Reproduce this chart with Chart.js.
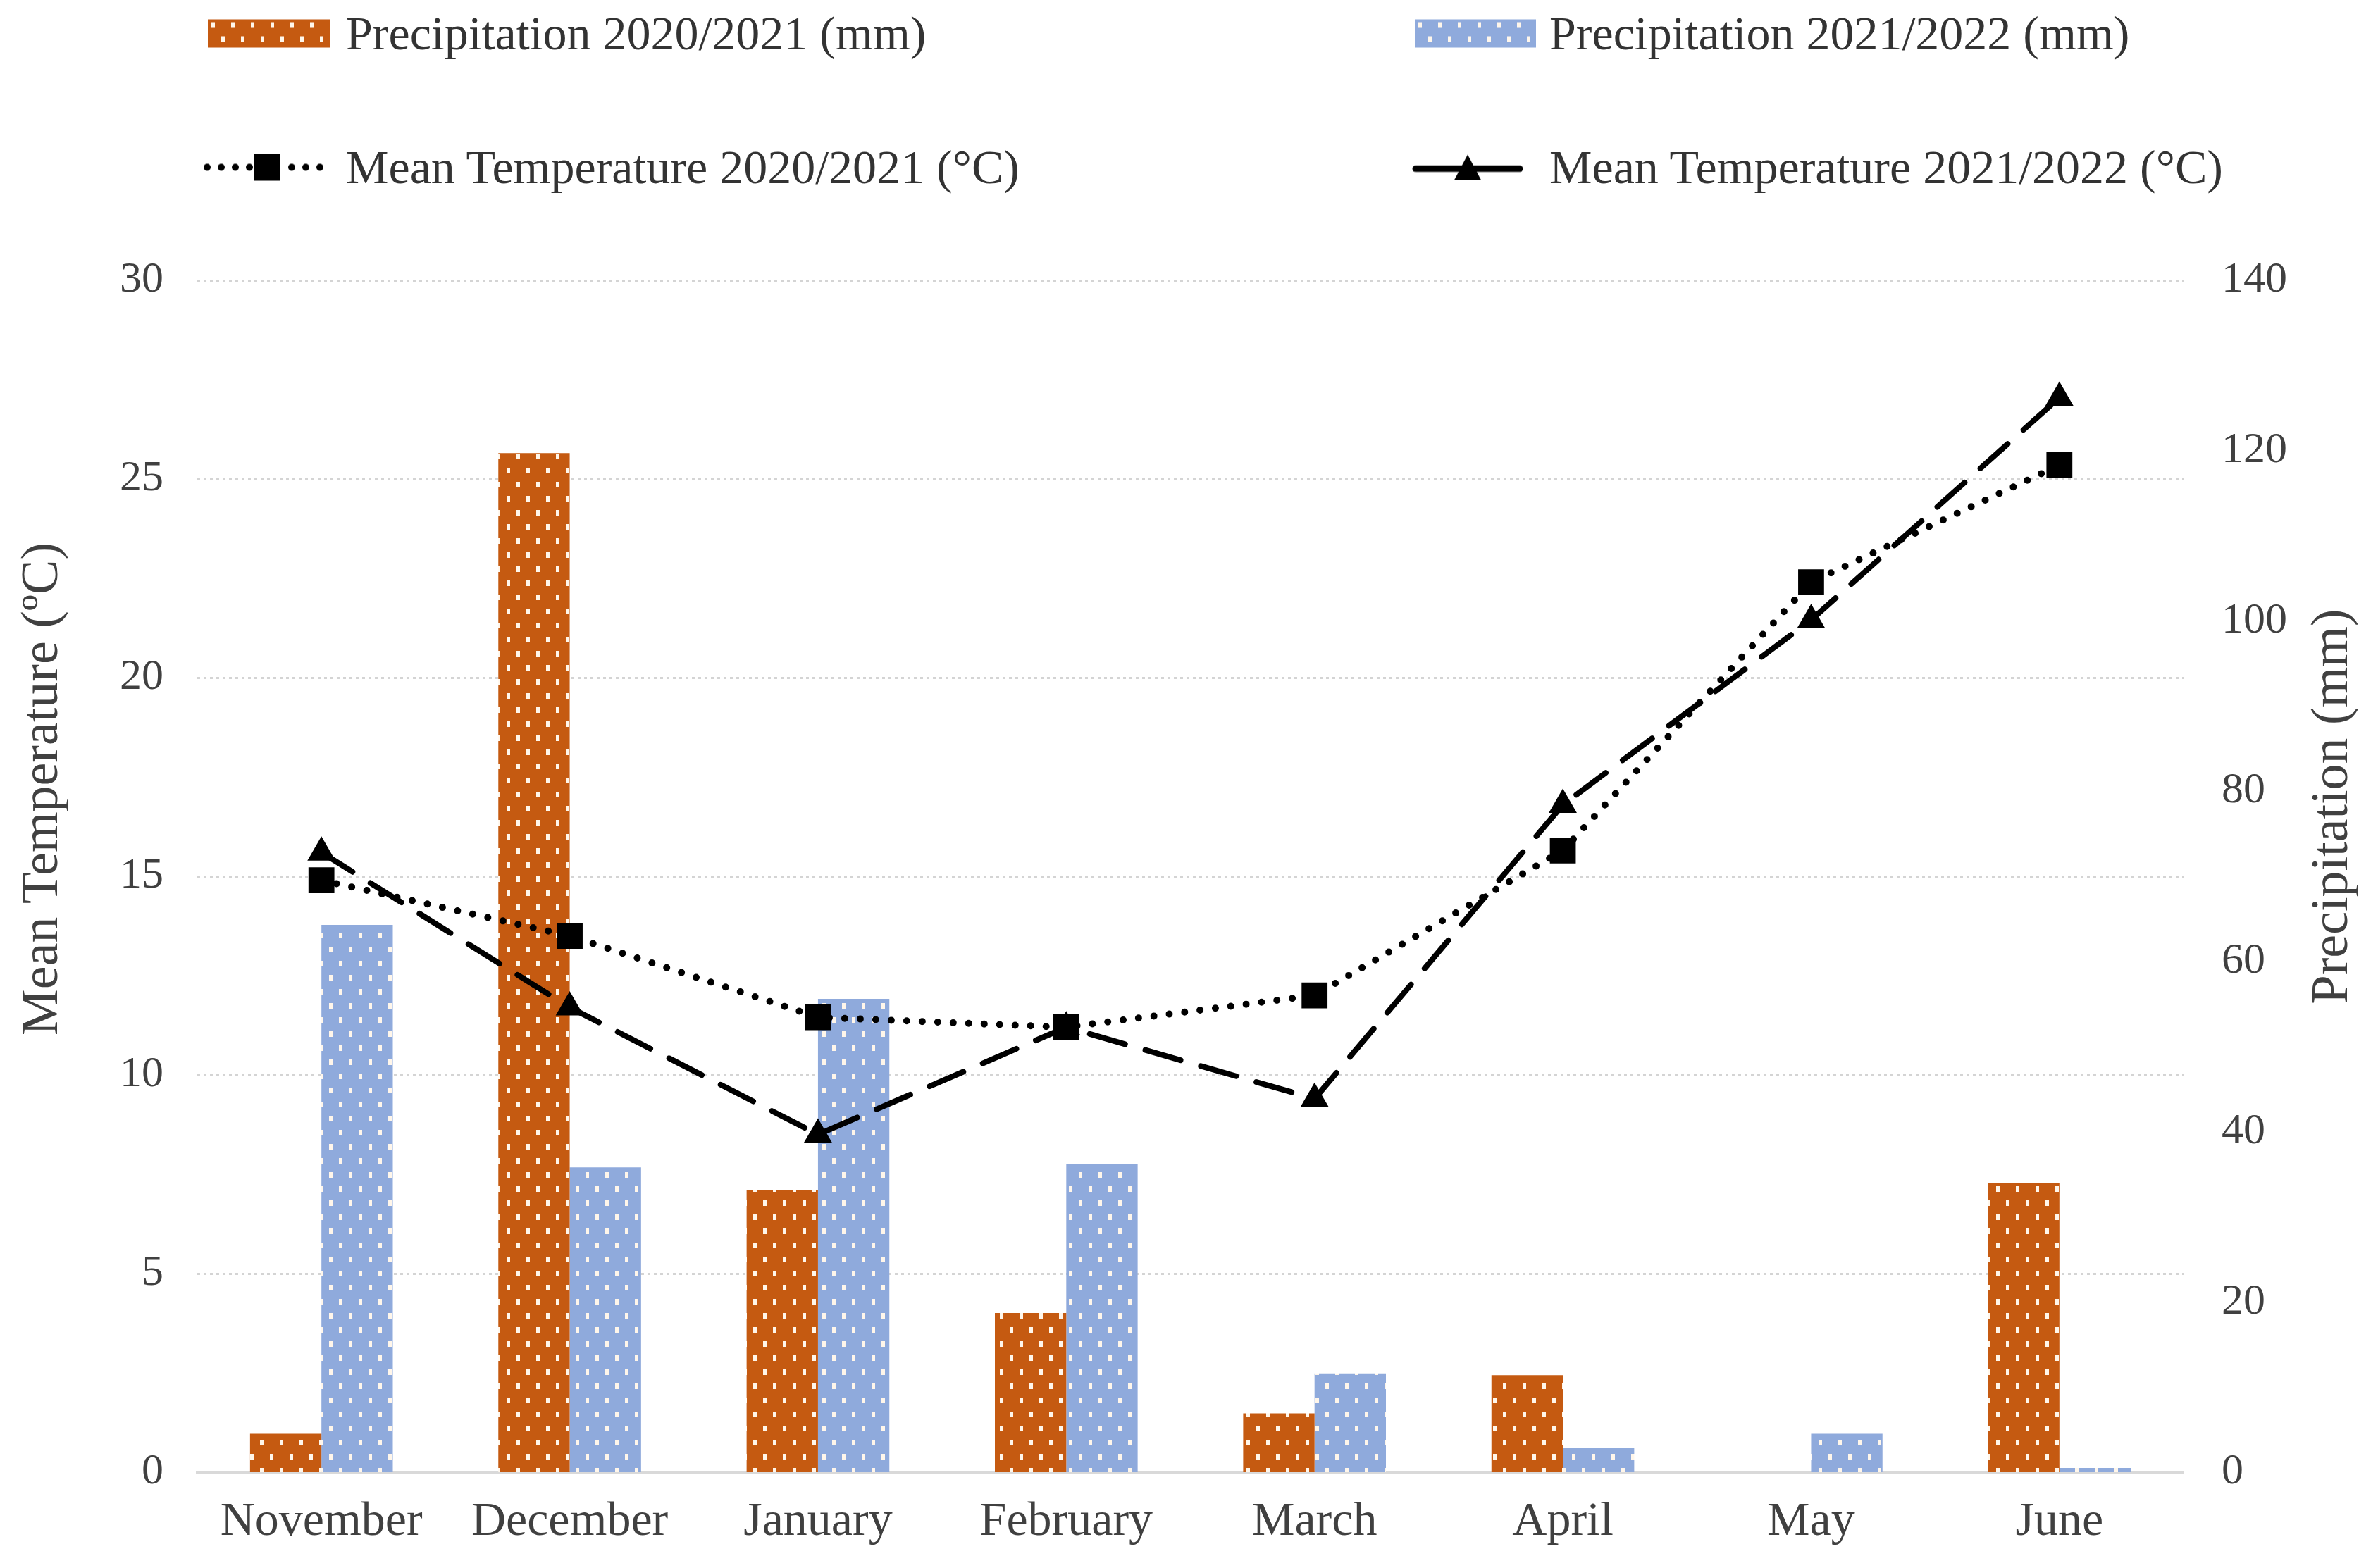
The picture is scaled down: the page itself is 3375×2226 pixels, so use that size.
<!DOCTYPE html>
<html>
<head>
<meta charset="utf-8">
<script src="https://cdn.jsdelivr.net/npm/chart.js@4.4.1/dist/chart.umd.min.js"></script>
<style>
body{margin:0;background:#fff;}
#wrap{position:relative;width:3375px;height:2226px;}
#chart{position:absolute;left:0;top:0;}
.leg{position:absolute;display:flex;align-items:center;transform:translateY(-50%);font-family:"Liberation Serif",serif;font-size:68px;color:#333;white-space:nowrap;}
</style>
</head>
<body>
<div id="wrap">
<canvas id="chart" width="3375" height="2226"></canvas>
<div class="leg" style="left:295px;top:47px"><canvas id="k1" width="174" height="40" style="margin-right:22px"></canvas>Precipitation 2020/2021 (mm)</div>
<div class="leg" style="left:2008px;top:47px"><canvas id="k2" width="172" height="40" style="margin-right:19px"></canvas>Precipitation 2021/2022 (mm)</div>
<div class="leg" style="left:288px;top:237px"><canvas id="k3" width="182" height="44" style="margin-right:21px"></canvas>Mean Temperature 2020/2021 (°C)</div>
<div class="leg" style="left:2003px;top:237px"><canvas id="k4" width="160" height="44" style="margin-right:36px"></canvas>Mean Temperature 2021/2022 (°C)</div>
</div>
<script>
const months = ['November', 'December', 'January', 'February', 'March', 'April', 'May', 'June'];
const precip2021 = [4.5, 119.7, 33.1, 18.7, 6.9, 11.4, 0, 34.0];
const precip2122 = [64.3, 35.8, 55.6, 36.2, 11.6, 2.9, 4.5, 0.5];
const temp2021 = [14.9, 13.5, 11.45, 11.2, 12.0, 15.65, 22.4, 25.35];
const temp2122 = [15.6, 11.7, 8.5, 11.2, 9.4, 16.8, 21.45, 27.05];
const tempTicks = [0, 5, 10, 15, 20, 25, 30];
const precipTicks = [0, 20, 40, 60, 80, 100, 120, 140];

const ORANGE = '#C55A11';
const BLUE = '#8FAADC';
const FONT = '"Liberation Serif", serif';
const TXT = '#404040';

// dotted fill like the office "small confetti" pattern
function dots(color) {
    const c = document.createElement('canvas');
    c.width = 28; c.height = 40;
    const g = c.getContext('2d');
    g.fillStyle = color;
    g.fillRect(0, 0, 28, 40);
    g.fillStyle = '#fff6ea';
    g.fillRect(5, 4, 5, 8);
    g.fillRect(19, 24, 5, 8);
    return g.createPattern(c, 'repeat');
}

// legend keys
function keyBar(id, color) {
    const g = document.getElementById(id).getContext('2d');
    g.fillStyle = dots(color);
    g.fillRect(0, 0, g.canvas.width, g.canvas.height);
}
keyBar('k1', ORANGE);
keyBar('k2', BLUE);
(function () {
    const g = document.getElementById('k3').getContext('2d');
    g.fillStyle = '#000';
    for (let x = 6; x < 182; x += 20) {
        if (x > 66 && x < 116) continue;
        g.beginPath(); g.arc(x, 22, 5, 0, Math.PI * 2); g.fill();
    }
    g.fillRect(73, 3, 37, 38);
    const h = document.getElementById('k4').getContext('2d');
    h.strokeStyle = '#000'; h.lineWidth = 9; h.lineCap = 'round';
    h.beginPath(); h.moveTo(6, 24); h.lineTo(154, 24); h.stroke();
    h.fillStyle = '#000';
    h.beginPath(); h.moveTo(80, 4); h.lineTo(99, 40); h.lineTo(61, 40); h.closePath(); h.fill();
})();

const axisTitles = {
    id: 'axisTitles',
    afterDraw(chart) {
        const ctx = chart.ctx;
        ctx.save();
        ctx.fillStyle = TXT;
        ctx.font = '74px ' + FONT;
        ctx.textAlign = 'center';
        ctx.textBaseline = 'middle';
        ctx.translate(62, 1120);
        ctx.rotate(-Math.PI / 2);
        ctx.fillText('Mean Temperature (ºC)', 0, 0);
        ctx.restore();
        ctx.save();
        ctx.fillStyle = TXT;
        ctx.font = '74px ' + FONT;
        ctx.textAlign = 'center';
        ctx.textBaseline = 'middle';
        ctx.translate(3312, 1145);
        ctx.rotate(-Math.PI / 2);
        ctx.fillText('Precipitation (mm)', 0, 0);
        ctx.restore();
    }
};

new Chart(document.getElementById('chart'), {
    data: {
        labels: months,
        datasets: [
            {
                type: 'line',
                label: 'Mean Temperature 2020/2021 (°C)',
                data: temp2021,
                yAxisID: 'y',
                borderColor: '#000',
                borderWidth: 10,
                borderDash: [0, 22],
                borderCapStyle: 'round',
                pointStyle: 'rect',
                pointRadius: 26,
                pointBackgroundColor: '#000',
                pointBorderWidth: 0,
                tension: 0,
                order: 1
            },
            {
                type: 'line',
                label: 'Mean Temperature 2021/2022 (°C)',
                data: temp2122,
                yAxisID: 'y',
                borderColor: '#000',
                borderWidth: 8,
                borderDash: [52, 30],
                borderCapStyle: 'round',
                pointStyle: 'triangle',
                pointRadius: 23,
                pointBackgroundColor: '#000',
                pointBorderWidth: 0,
                tension: 0,
                order: 1
            },
            {
                type: 'bar',
                label: 'Precipitation 2020/2021 (mm)',
                data: precip2021,
                yAxisID: 'y1',
                backgroundColor: dots(ORANGE),
                categoryPercentage: 0.575,
                barPercentage: 1,
                order: 2
            },
            {
                type: 'bar',
                label: 'Precipitation 2021/2022 (mm)',
                data: precip2122,
                yAxisID: 'y1',
                backgroundColor: dots(BLUE),
                categoryPercentage: 0.575,
                barPercentage: 1,
                order: 2
            }
        ]
    },
    options: {
        responsive: false,
        devicePixelRatio: 1,
        animation: false,
        layout: { padding: { top: 398, bottom: 0, left: 0, right: 0 } },
        plugins: { legend: { display: false }, tooltip: { enabled: false } },
        scales: {
            x: {
                offset: true,
                grid: { display: false, drawTicks: false },
                border: { display: true, color: '#d9d9d9', width: 4 },
                ticks: { color: TXT, font: { family: FONT, size: 68 }, padding: 30, maxRotation: 0 },
                afterFit: s => { s.height = 136; }
            },
            y: {
                position: 'left',
                min: 0, max: 30,
                afterBuildTicks: s => { s.ticks = tempTicks.map(v => ({ value: v })); },
                grid: { color: '#d4d4d4', lineWidth: 3, drawTicks: false },
                border: { display: false, dash: [4, 5] },
                ticks: { color: TXT, font: { family: FONT, size: 62 }, padding: 48 },
                afterFit: s => { s.width = 280; }
            },
            y1: {
                position: 'right',
                min: 0, max: 140,
                afterBuildTicks: s => { s.ticks = precipTicks.map(v => ({ value: v })); },
                grid: { display: false, drawTicks: false },
                border: { display: false },
                ticks: { color: TXT, font: { family: FONT, size: 62 }, padding: 54 },
                afterFit: s => { s.width = 276; }
            }
        }
    },
    plugins: [axisTitles]
});
</script>
</body>
</html>
